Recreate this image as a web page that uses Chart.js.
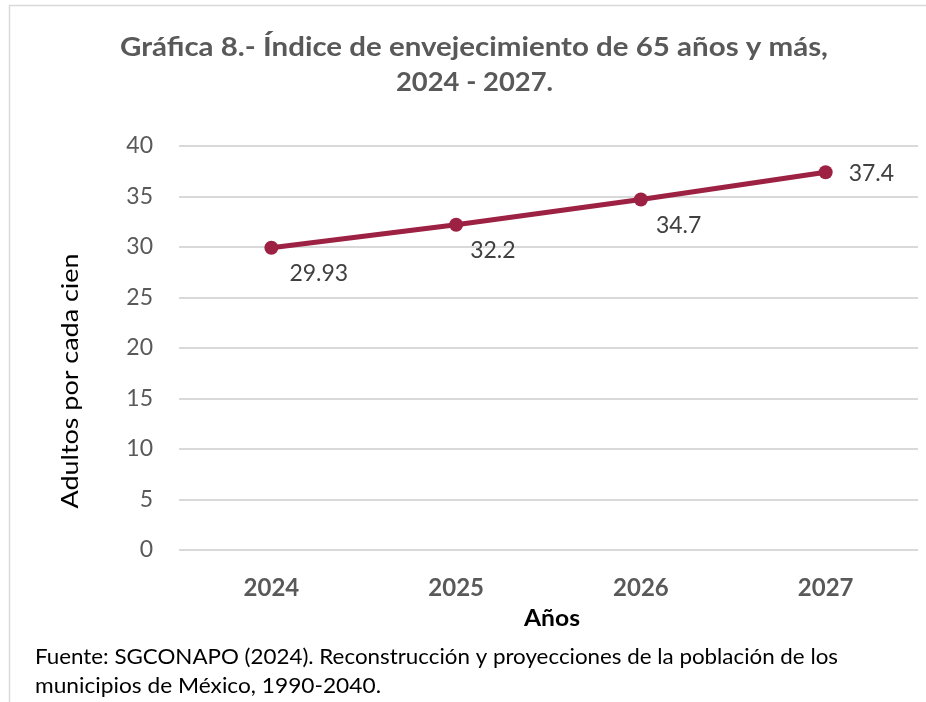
<!DOCTYPE html>
<html>
<head>
<meta charset="utf-8">
<script src="https://cdn.jsdelivr.net/npm/chart.js@4/dist/chart.umd.min.js"></script>
<style>
html,body{margin:0;padding:0;background:#fff;}
#wrap{width:926px;height:702px;position:relative;}
</style>
</head>
<body>
<div id="wrap"><canvas id="c" width="926" height="702"></canvas></div>
<script>
const categories = ['2024', '2025', '2026', '2027'];
const values = [29.93, 32.2, 34.7, 37.4];
const valueLabels = ['29.93', '32.2', '34.7', '37.4'];
const titleLines = ['Gráfica 8.- Índice de envejecimiento de 65 años y más,', '2024 - 2027.'];
const yAxisTitle = 'Adultos por cada cien';
const xAxisTitle = 'Años';
const footLines = ['Fuente: SGCONAPO (2024). Reconstrucción y proyecciones de la población de los', 'municipios de México, 1990-2040.'];

const lineColor = '#9C2143';

// draw text horizontally scaled to a target width
function fitText(ctx, text, x, y, width, align) {
  const w = ctx.measureText(text).width;
  const s = width / w;
  ctx.save();
  ctx.textAlign = 'left';
  let left = x;
  if (align === 'center') left = x - width / 2;
  ctx.translate(left, y);
  ctx.scale(s, 1);
  ctx.fillText(text, 0, 0);
  ctx.restore();
}

const decor = {
  id: 'decor',
  beforeDraw(chart) {
    const ctx = chart.ctx;
    ctx.save();
    ctx.fillStyle = '#fff';
    ctx.fillRect(0, 0, chart.width, chart.height);
    ctx.strokeStyle = '#d9d9d9';
    ctx.lineWidth = 1.5;
    ctx.beginPath();
    ctx.moveTo(9.5, chart.height);
    ctx.lineTo(9.5, 5.5);
    ctx.lineTo(chart.width, 5.5);
    ctx.stroke();
    ctx.restore();
  },
  afterDraw(chart) {
    const ctx = chart.ctx;
    const area = chart.chartArea;
    ctx.save();
    ctx.textBaseline = 'middle';
    // title
    ctx.fillStyle = '#595959';
    ctx.font = 'bold 27px Lato';
    fitText(ctx, titleLines[0], 474, 47, 708, 'center');
    fitText(ctx, titleLines[1], 474.5, 82, 157, 'center');
    // y title
    ctx.save();
    ctx.translate(70, 381);
    ctx.rotate(-Math.PI / 2);
    ctx.fillStyle = '#000';
    ctx.font = '24px Lato';
    fitText(ctx, yAxisTitle, 0, 0, 255, 'center');
    ctx.restore();
    // x title
    ctx.fillStyle = '#000';
    ctx.font = 'bold 22px Lato';
    fitText(ctx, xAxisTitle, 552, 619, 56, 'center');
    // footer
    ctx.font = '21px Lato';
    fitText(ctx, footLines[0], 35, 657, 803, 'left');
    fitText(ctx, footLines[1], 35, 686, 346, 'left');
    // data labels
    const meta = chart.getDatasetMeta(0);
    ctx.fillStyle = '#404040';
    ctx.font = '23px Lato';
    ctx.textAlign = 'left';
    const offs = [[18, 26], [14, 26], [15, 26], [23, 1]];
    meta.data.forEach((pt, i) => {
      ctx.fillText(valueLabels[i], pt.x + offs[i][0], pt.y + offs[i][1]);
    });
    ctx.restore();
  }
};

new Chart(document.getElementById('c'), {
  type: 'line',
  data: {
    labels: categories,
    datasets: [{
      data: values,
      borderColor: lineColor,
      backgroundColor: lineColor,
      borderWidth: 5,
      pointRadius: 7,
      pointHoverRadius: 7,
      pointBackgroundColor: lineColor,
      pointBorderColor: lineColor,
      pointBorderWidth: 0,
      tension: 0,
      fill: false
    }]
  },
  options: {
    responsive: false,
    animation: false,
    events: [],
    layout: { padding: { top: 146, right: 8, left: 0, bottom: 0 } },
    plugins: { legend: { display: false }, title: { display: false }, tooltip: { enabled: false } },
    scales: {
      x: {
        offset: true,
        afterFit(s) { s.height = 152; },
        grid: { display: false, drawTicks: false },
        border: { display: false },
        ticks: { color: '#595959', font: { family: 'Lato', size: 24, weight: 'bold' }, padding: 24, maxRotation: 0 }
      },
      y: {
        min: 0, max: 40,
        afterFit(s) { s.width = 179; },
        grid: { color: '#d9d9d9', lineWidth: 2, drawTicks: false },
        border: { display: false },
        ticks: { stepSize: 5, color: '#595959', font: { family: 'Lato', size: 23 }, padding: 26 }
      }
    }
  },
  plugins: [decor]
});
</script>
</body>
</html>
